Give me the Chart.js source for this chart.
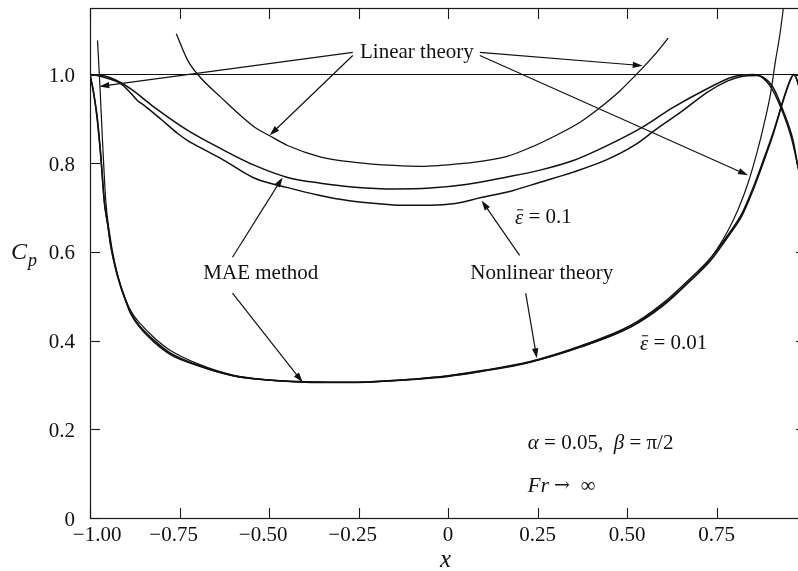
<!DOCTYPE html>
<html><head><meta charset="utf-8">
<script src="https://cdn.jsdelivr.net/npm/chart.js@4.4.0/dist/chart.umd.min.js"></script>
<style>
html,body{margin:0;padding:0;background:#fff;overflow:hidden}
#wrap{width:798px;height:571px;overflow:hidden;position:relative;background:#fff}
canvas{display:block}
</style></head>
<body><div id="wrap"><canvas id="c" width="812" height="571" style="width:812px;height:571px"></canvas></div>
<script>
// ---------- tick values and labels ----------
const xTickValues = [-1, -0.75, -0.5, -0.25, 0, 0.25, 0.5, 0.75, 1];
const xTickLabels = ['−1.00', '−0.75', '−0.50', '−0.25', '0', '0.25', '0.50', '0.75', ''];
const yTickValues = [0, 0.2, 0.4, 0.6, 0.8, 1.0];
const yTickLabels = ['0', '0.2', '0.4', '0.6', '0.8', '1.0'];

// ---------- series ----------
// reference line Cp = 1
const refX = [-1, 1];
const refY = [1, 1];

// linear theory, eps = 0.1 (the big arc)
const linArcX = [-0.759, -0.727, -0.699, -0.635, -0.54, -0.498, -0.448, -0.355, -0.26, -0.15, -0.076, -0.022, 0.05, 0.163, 0.229, 0.3, 0.37, 0.424, 0.48, 0.545, 0.58, 0.615];
const linArcY = [1.092, 1.032, 1.0, 0.949, 0.881, 0.862, 0.840, 0.814, 0.802, 0.795, 0.793, 0.795, 0.800, 0.815, 0.835, 0.862, 0.893, 0.925, 0.963, 1.016, 1.047, 1.082];

// MAE method, eps = 0.1 (upper)
const mae1X = [-1, -0.98, -0.951, -0.915, -0.887, -0.82, -0.727, -0.635, -0.54, -0.448, -0.356, -0.26, -0.15, -0.05, 0.05, 0.165, 0.26, 0.35, 0.44, 0.536, 0.629, 0.724, 0.797, 0.853, 0.88, 0.908, 0.936, 0.964, 0.978, 1.0];
const mae1Y = [1.0, 0.999, 0.995, 0.982, 0.968, 0.926, 0.874, 0.833, 0.795, 0.768, 0.755, 0.746, 0.742, 0.744, 0.752, 0.769, 0.785, 0.806, 0.838, 0.878, 0.926, 0.968, 0.995, 1.0, 0.994, 0.971, 0.919, 0.851, 0.791, 0.72];

// nonlinear theory, eps = 0.1 (lower)
const nl1X = [-1, -0.98, -0.945, -0.915, -0.887, -0.867, -0.848, -0.8, -0.755, -0.727, -0.68, -0.635, -0.54, -0.448, -0.36, -0.28, -0.2, -0.13, -0.05, 0.02, 0.09, 0.18, 0.257, 0.35, 0.444, 0.52, 0.584, 0.65, 0.724, 0.78, 0.816, 0.863, 0.899, 0.93, 0.96, 0.978, 1.0];
const nl1Y = [1.0, 0.998, 0.99, 0.980, 0.959, 0.941, 0.930, 0.898, 0.867, 0.851, 0.830, 0.811, 0.766, 0.745, 0.728, 0.716, 0.709, 0.705, 0.705, 0.709, 0.722, 0.738, 0.757, 0.78, 0.808, 0.84, 0.878, 0.915, 0.96, 0.985, 0.995, 0.998, 0.975, 0.925, 0.855, 0.79, 0.70];

// linear theory, eps = 0.01
const lin01X = [-0.979, -0.972, -0.965, -0.956, -0.945, -0.93, -0.914, -0.886, -0.858, -0.82, -0.774, -0.7, -0.6, -0.5, -0.4, -0.3, -0.2, -0.1, 0, 0.1, 0.23, 0.37, 0.51, 0.6, 0.67, 0.733, 0.78, 0.81, 0.84, 0.865, 0.881, 0.901, 0.915, 0.927, 0.94];
const lin01Y = [1.077, 0.97, 0.85, 0.716, 0.64, 0.572, 0.524, 0.467, 0.437, 0.406, 0.377, 0.348, 0.322, 0.311, 0.306, 0.305, 0.307, 0.312, 0.319, 0.331, 0.351, 0.385, 0.43, 0.478, 0.53, 0.585, 0.645, 0.695, 0.76, 0.83, 0.882, 0.957, 1.032, 1.09, 1.17];

// nonlinear theory, eps = 0.01
const nl01X = [-1, -0.99, -0.98, -0.97, -0.96, -0.95, -0.942, -0.928, -0.914, -0.9, -0.886, -0.858, -0.82, -0.774, -0.7, -0.6, -0.5, -0.4, -0.3, -0.2, -0.1, 0, 0.1, 0.23, 0.37, 0.51, 0.6, 0.67, 0.733, 0.78, 0.82, 0.85, 0.88, 0.91, 0.936, 0.955, 0.966, 0.98, 1.0];
const nl01Y = [1.0, 0.96, 0.905, 0.82, 0.715, 0.66, 0.615, 0.562, 0.522, 0.49, 0.462, 0.43, 0.4, 0.371, 0.345, 0.321, 0.311, 0.307, 0.306, 0.308, 0.313, 0.32, 0.332, 0.352, 0.386, 0.431, 0.48, 0.53, 0.58, 0.632, 0.68, 0.735, 0.80, 0.87, 0.94, 0.985, 1.0, 0.975, 0.9];

// MAE method, eps = 0.01
const mae01X = [-1, -0.99, -0.98, -0.97, -0.96, -0.95, -0.942, -0.928, -0.914, -0.9, -0.886, -0.858, -0.82, -0.774, -0.7, -0.6, -0.5, -0.4, -0.3, -0.2, -0.1, 0, 0.1, 0.23, 0.37, 0.51, 0.6, 0.67, 0.733, 0.78, 0.82, 0.85, 0.88, 0.91, 0.936, 0.955, 0.966, 0.98, 1.0];
const mae01Y = [1.0, 0.958, 0.9, 0.815, 0.712, 0.658, 0.613, 0.56, 0.521, 0.489, 0.46, 0.427, 0.396, 0.368, 0.344, 0.321, 0.311, 0.307, 0.306, 0.308, 0.313, 0.321, 0.333, 0.353, 0.388, 0.434, 0.484, 0.535, 0.586, 0.636, 0.685, 0.74, 0.805, 0.873, 0.942, 0.986, 1.0, 0.974, 0.9];

// ---------- annotations (data coordinates) ----------
const labelTexts = ['Linear theory', 'MAE method', 'Nonlinear theory'];
const labelX = [-0.087, -0.523, 0.262];
const labelY = [1.050, 0.552, 0.552];

// arrows: from (x1,y1) to tip (x2,y2)
const arrowX1 = [-0.266, -0.266, 0.089, 0.089, -0.602, -0.602, 0.200, 0.217];
const arrowY1 = [1.050, 1.043, 1.050, 1.043, 0.588, 0.507, 0.592, 0.507];
const arrowX2 = [-0.974, -0.498, 0.544, 0.838, -0.462, -0.406, 0.094, 0.248];
const arrowY2 = [0.973, 0.863, 1.020, 0.773, 0.768, 0.306, 0.716, 0.360];

const FONT = '"Liberation Serif", "Times New Roman", serif';

function pts(xs, ys) { return xs.map((x, i) => ({x: x, y: ys[i]})); }
function ds(xs, ys, w) {
  return {data: pts(xs, ys), showLine: true, borderColor: '#111', borderWidth: w,
          pointRadius: 0, fill: false, cubicInterpolationMode: 'monotone'};
}

function setFont(ctx, italic, size, fam) {
  ctx.font = (italic ? 'italic ' : '') + size + 'px ' + (fam || FONT);
}
// draws a list of [text, italic, size, family] segments starting at x (left), baseline middle
function drawRich(ctx, parts, x, y) {
  let cx = x;
  for (const p of parts) {
    setFont(ctx, p[1], p[2] || 21, p[3]);
    ctx.fillText(p[0], cx, y);
    cx += ctx.measureText(p[0]).width;
  }
  return cx;
}

const framePlugin = {
  id: 'frame',
  afterDraw(chart) {
    const {ctx, chartArea: a, scales: {x, y}} = chart;
    ctx.save();
    ctx.strokeStyle = '#1a1a1a';
    ctx.lineWidth = 1.2;
    ctx.strokeRect(a.left + 0.5, a.top + 0.5, a.right - a.left, a.bottom - a.top);
    ctx.lineWidth = 1.1;
    const seg = (x1, y1, x2, y2) => { ctx.beginPath(); ctx.moveTo(x1, y1); ctx.lineTo(x2, y2); ctx.stroke(); };
    xTickValues.forEach(v => {
      const px = Math.round(x.getPixelForValue(v)) + 0.5;
      seg(px, a.bottom, px, a.bottom - 10);
      seg(px, a.top, px, a.top + 11);
    });
    yTickValues.forEach(v => {
      const py = Math.round(y.getPixelForValue(v)) + 0.5;
      seg(a.left, py, a.left + 10, py);
      seg(a.right, py, a.right - 10, py);
    });
    // x tick labels: digits centred on the tick, minus sign hanging to the left
    ctx.fillStyle = '#111';
    ctx.textBaseline = 'middle';
    setFont(ctx, false, 21);
    xTickValues.forEach((v, i) => {
      const lab = xTickLabels[i];
      if (!lab) return;
      let px = x.getPixelForValue(v);
      const neg = lab[0] === '−';
      const digits = neg ? lab.slice(1) : lab;
      const w = ctx.measureText(digits).width;
      if (i === 0) px += 13;
      ctx.textAlign = 'left';
      const left = px - w / 2;
      ctx.fillText(digits, left, a.bottom + 17);
      if (neg) { ctx.textAlign = 'right'; ctx.fillText('−', left, a.bottom + 17); }
    });
    // axis titles
    ctx.textAlign = 'left';
    ctx.textBaseline = 'alphabetic';
    setFont(ctx, true, 25);
    ctx.fillText('x', 440, 567);
    setFont(ctx, true, 24);
    ctx.fillText('C', 11, 259);
    setFont(ctx, true, 18);
    ctx.fillText('p', 28, 266);
    ctx.restore();
  }
};

const annotPlugin = {
  id: 'annot',
  afterDatasetsDraw(chart) {
    const {ctx, scales: {x, y}} = chart;
    ctx.save();
    ctx.fillStyle = '#111';
    ctx.strokeStyle = '#111';
    ctx.lineWidth = 1.2;
    // arrows
    for (let i = 0; i < arrowX1.length; i++) {
      const x1 = x.getPixelForValue(arrowX1[i]), y1 = y.getPixelForValue(arrowY1[i]);
      const x2 = x.getPixelForValue(arrowX2[i]), y2 = y.getPixelForValue(arrowY2[i]);
      const ang = Math.atan2(y2 - y1, x2 - x1);
      const L = 10, H = 3.2;
      ctx.beginPath(); ctx.moveTo(x1, y1);
      ctx.lineTo(x2 - Math.cos(ang) * L * 0.8, y2 - Math.sin(ang) * L * 0.8); ctx.stroke();
      ctx.beginPath();
      ctx.moveTo(x2, y2);
      ctx.lineTo(x2 - Math.cos(ang) * L - Math.sin(ang) * H, y2 - Math.sin(ang) * L + Math.cos(ang) * H);
      ctx.lineTo(x2 - Math.cos(ang) * L + Math.sin(ang) * H, y2 - Math.sin(ang) * L - Math.cos(ang) * H);
      ctx.closePath(); ctx.fill();
    }
    // labels
    ctx.textBaseline = 'middle';
    ctx.textAlign = 'center';
    setFont(ctx, false, 21);
    labelTexts.forEach((t, i) => {
      const px = x.getPixelForValue(labelX[i]), py = y.getPixelForValue(labelY[i]);
      const w = ctx.measureText(t).width + 8;
      ctx.fillStyle = '#fff'; ctx.fillRect(px - w / 2, py - 11, w, 22);
      ctx.fillStyle = '#111'; ctx.fillText(t, px, py);
    });
    ctx.textAlign = 'left';
    // epsilon labels
    const epsLabel = (xv, yv, rest) => {
      const px = x.getPixelForValue(xv), py = y.getPixelForValue(yv);
      setFont(ctx, true, 21);
      const ew = ctx.measureText('ε').width;
      ctx.fillText('ε', px, py + 1);
      ctx.lineWidth = 1; ctx.beginPath(); ctx.moveTo(px + 2, py - 7.5); ctx.lineTo(px + ew, py - 7.5); ctx.stroke();
      setFont(ctx, false, 21);
      ctx.fillText(rest, px + ew, py);
    };
    epsLabel(0.187, 0.678, ' = 0.1');
    epsLabel(0.536, 0.394, ' = 0.01');
    // parameter labels
    const pxp = x.getPixelForValue(0.223);
    drawRich(ctx, [['α', true], [' = 0.05,  ', false], ['β', true], [' = π/2', false]], pxp, y.getPixelForValue(0.169));
    drawRich(ctx, [['Fr ', true], ['→', false, 19, '"DejaVu Serif", serif'], ['  ∞', false]], pxp, y.getPixelForValue(0.072));
    ctx.restore();
  }
};

new Chart(document.getElementById('c').getContext('2d'), {
  type: 'scatter',
  data: {
    datasets: [
      ds(refX, refY, 1.2),
      ds(linArcX, linArcY, 1.3),
      ds(mae1X, mae1Y, 1.5),
      ds(nl1X, nl1Y, 1.5),
      ds(lin01X, lin01Y, 1.2),
      ds(nl01X, nl01Y, 1.5),
      ds(mae01X, mae01Y, 1.5)
    ]
  },
  options: {
    responsive: false,
    animation: false,
    devicePixelRatio: 1,
    layout: {padding: {top: 8, right: 6, left: 0, bottom: 0}},
    plugins: {legend: {display: false}, tooltip: {enabled: false}},
    scales: {
      x: {
        type: 'linear', min: -1, max: 1,
        afterFit(s) { s.height = 53; s.paddingLeft = 0; s.paddingRight = 0; },
        afterBuildTicks(s) { s.ticks = xTickValues.map(v => ({value: v})); },
        grid: {display: false}, border: {display: false},
        ticks: {display: false}
      },
      y: {
        type: 'linear', min: 0, max: 1.15,
        afterFit(s) { s.width = 90; s.paddingTop = 0; s.paddingBottom = 0; },
        afterBuildTicks(s) { s.ticks = yTickValues.map(v => ({value: v})); },
        grid: {display: false}, border: {display: false},
        ticks: {
          padding: 7, labelOffset: 2, color: '#111', autoSkip: false,
          font: {family: FONT, size: 21},
          callback: (v) => { const i = yTickValues.findIndex(t => Math.abs(t - v) < 1e-9); return i >= 0 ? yTickLabels[i] : ''; }
        }
      }
    }
  },
  plugins: [framePlugin, annotPlugin]
});
</script>
</body></html>
